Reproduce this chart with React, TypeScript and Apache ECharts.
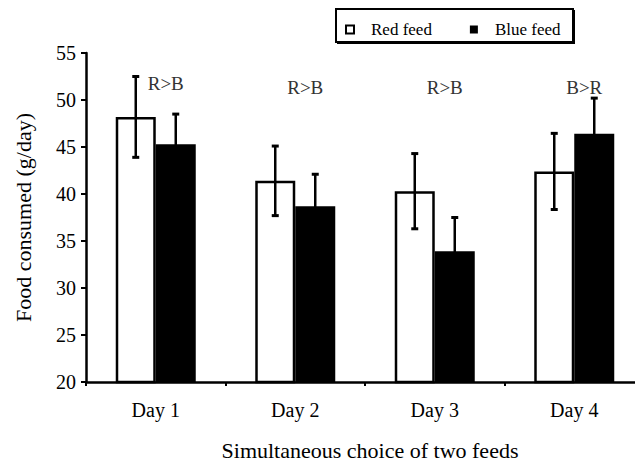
import React, { useEffect, useRef } from "react";
import * as echarts from "echarts";

const categories = ["Day 1", "Day 2", "Day 3", "Day 4"];
const redFeed = [48.2, 41.4, 40.3, 42.4];
const redErr = [4.3, 3.7, 4.0, 4.05];
const blueFeed = [45.3, 38.7, 33.9, 46.4];
const blueErr = [3.2, 3.4, 3.6, 3.8];
const annotations = ["R>B", "R>B", "R>B", "B>R"];
const annotationLevel = [51.8, 51.3, 51.3, 51.3];
const yMin = 20;
const yMax = 55;
const yInterval = 5;

const FONT = "'Liberation Serif', 'Times New Roman', serif";
const BAR_W = 40;

function errorRender(offset: number) {
  return (params: any, api: any) => {
    const cat = api.value(0);
    const mean = api.value(1);
    const err = api.value(2);
    const top = api.coord([cat, mean + err]);
    const bot = api.coord([cat, mean - err]);
    const x = top[0] + offset;
    const style = { stroke: "#000", lineWidth: 2.5 };
    const cap = 3.5;
    return {
      type: "group",
      children: [
        { type: "line", shape: { x1: x, y1: top[1], x2: x, y2: bot[1] }, style },
        { type: "line", shape: { x1: x - cap, y1: top[1], x2: x + cap, y2: top[1] }, style: { stroke: "#000", lineWidth: 3 } },
        { type: "line", shape: { x1: x - cap, y1: bot[1], x2: x + cap, y2: bot[1] }, style: { stroke: "#000", lineWidth: 3 } },
      ],
    };
  };
}

export default function App() {
  const ref = useRef<HTMLDivElement>(null);
  useEffect(() => {
    if (!ref.current) return;
    const chart = echarts.init(ref.current, undefined, { renderer: "svg" });
    const redErrData = categories.map((_, i) => [i, redFeed[i], redErr[i]]);
    const blueErrData = categories.map((_, i) => [i, blueFeed[i], blueErr[i]]);
    const annData = categories.map((_, i) => [i, annotationLevel[i], annotations[i]]);
    chart.setOption({
      animation: false,
      backgroundColor: "#fff",
      textStyle: { fontFamily: FONT },
      graphic: [
        { type: "rect", left: 337, top: 10, shape: { width: 238, height: 34 }, style: { fill: "#000" }, z: 0 },
        { type: "rect", left: 335, top: 8, shape: { width: 237, height: 33 }, style: { fill: "#fff", stroke: "#000", lineWidth: 2 }, z: 1 },
      ],
      legend: {
        left: 340,
        top: 16,
        z: 5,
        itemWidth: 8,
        itemHeight: 8,
        itemGap: 38,
        icon: "rect",
        data: ["Red feed", "Blue feed"],
        formatter: (n: string) => `{a|${n}}`,
        textStyle: {
          fontFamily: FONT,
          fontSize: 17,
          color: "#000",
          rich: { a: { fontFamily: FONT, fontSize: 17, color: "#000", padding: [0, 0, 0, 12] } },
        },
      },
      grid: { left: 86, top: 53, width: 558, height: 329, containLabel: false, outerBoundsMode: "none" },
      xAxis: {
        type: "category",
        data: categories,
        axisLine: { lineStyle: { color: "#000", width: 2.5 } },
        axisTick: { show: true, length: 4, lineStyle: { color: "#000", width: 2 } },
        axisLabel: { color: "#000", fontFamily: FONT, fontSize: 20, margin: 18 },
        name: "Simultaneous choice of two feeds",
        nameLocation: "middle",
        nameGap: 57,
        nameTextStyle: { color: "#000", fontFamily: FONT, fontSize: 22, padding: [0, 0, 0, 10] },
      },
      yAxis: {
        type: "value",
        min: yMin,
        max: yMax,
        interval: yInterval,
        splitLine: { show: false },
        axisLine: { show: true, lineStyle: { color: "#000", width: 2.5 } },
        axisTick: { show: true, length: 5, lineStyle: { color: "#000", width: 2 } },
        axisLabel: { color: "#000", fontFamily: FONT, fontSize: 20, margin: 10 },
        name: "Food consumed (g/day)",
        nameLocation: "middle",
        nameGap: 52,
        nameTextStyle: { color: "#000", fontFamily: FONT, fontSize: 22 },
      },
      series: [
        {
          name: "Red feed",
          type: "bar",
          data: redFeed,
          barWidth: BAR_W,
          barGap: "0%",
          itemStyle: { color: "#fff", borderColor: "#000", borderWidth: 2.5 },
          z: 2,
        },
        {
          name: "Blue feed",
          type: "bar",
          data: blueFeed,
          barWidth: BAR_W,
          barGap: "0%",
          itemStyle: { color: "#000", borderColor: "#000", borderWidth: 0 },
          z: 2,
        },
        {
          type: "custom",
          data: redErrData,
          encode: { x: 0, y: 1 },
          renderItem: errorRender(-BAR_W / 2),
          z: 4,
          silent: true,
        },
        {
          type: "custom",
          data: blueErrData,
          encode: { x: 0, y: 1 },
          renderItem: errorRender(BAR_W / 2),
          z: 4,
          silent: true,
        },
        {
          type: "custom",
          data: annData,
          encode: { x: 0, y: 1 },
          z: 5,
          silent: true,
          renderItem: (params: any, api: any) => {
            const i = params.dataIndex;
            const p = api.coord([api.value(0), api.value(1)]);
            return {
              type: "text",
              x: p[0] + 10,
              y: p[1],
              style: {
                text: annotations[i],
                fill: "#333",
                font: `19px ${FONT}`,
                align: "center",
                verticalAlign: "middle",
              },
            };
          },
        },
      ],
    });
    return () => chart.dispose();
  }, []);
  return (
    <div
      ref={ref}
      style={{ position: "absolute", left: 0, top: 0, width: 635, height: 462 }}
    />
  );
}
